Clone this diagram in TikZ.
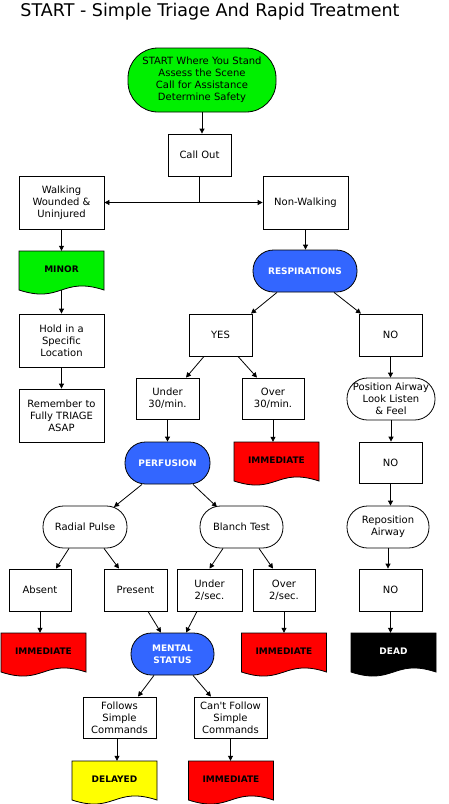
\documentclass[tikz,border=0pt]{standalone}
\usepackage{fontspec}
\newfontfamily\dv{DejaVu Sans}
\usetikzlibrary{arrows.meta,calc}
\definecolor{cgreen}{RGB}{0,240,0}
\definecolor{cblue}{RGB}{51,102,255}
\definecolor{cred}{RGB}{255,0,0}
\definecolor{cyellow}{RGB}{255,255,0}
\tikzset{
  box/.style={draw=black, line width=0.8pt, fill=white, align=center, inner sep=1pt,
              font=\dv\fontsize{10}{12}\selectfont},
  rbox/.style={box, rounded corners=20.5pt},
  term/.style={rbox, fill=cblue, text=white, font=\dv\bfseries\fontsize{9}{12}\selectfont},
  doctext/.style={align=center, inner sep=0pt, font=\dv\bfseries\fontsize{9}{12}\selectfont,
                  minimum width=85pt, minimum height=36pt},
  docpath/.style={draw=black, line width=0.8pt},
  arr/.style={line width=0.8pt, -{Triangle[length=5pt,width=5pt]}},
}
\newcommand\mydoc[6]{%
  \path[docpath, fill=#4] (#2-42.5,#3) -- (#2+42.5,#3) -- (#2+42.5,#3+39)
     .. controls (#2,#3+25) and (#2,#3+53) .. (#2-42.5,#3+39) -- cycle;
  \node[doctext, text=#5] (#1) at (#2,#3+18) {#6};
  \coordinate (#1-b) at (#2,#3+39);
}
\begin{document}
\begin{tikzpicture}[x=1pt,y=-1pt]
\useasboundingbox (0,0) rectangle (448,804);

\node[anchor=base, inner sep=0pt, font=\dv\fontsize{17.5}{20}\selectfont] (title) at (210,16.5)
  {START - Simple Triage And Rapid Treatment};

% top
\node[box, fill=cgreen, rounded corners=30pt, minimum width=148pt, minimum height=64pt] (start) at (202,80)
  {START Where You Stand\\Assess the Scene\\Call for Assistance\\Determine Safety};
\node[box, minimum width=63pt, minimum height=42pt] (callout) at (199.5,155) {Call Out};
\node[box, minimum width=85pt, minimum height=53pt] (walk) at (61.5,202.5) {Walking\\Wounded \&\\Uninjured};
\node[box, minimum width=85pt, minimum height=53pt] (nonwalk) at (305.5,202.5) {Non-Walking};

% left column
\mydoc{minor}{61.5}{251}{cgreen}{black}{MINOR}
\node[box, minimum width=85pt, minimum height=53pt] (hold) at (61.5,340.5) {Hold in a\\Specific\\Location};
\node[box, minimum width=85pt, minimum height=53pt] (remember) at (61.5,415.5) {Remember to\\Fully TRIAGE\\ASAP};

% respirations
\node[term, minimum width=104pt, minimum height=42pt] (resp) at (305,271) {RESPIRATIONS};
\node[box, minimum width=63pt, minimum height=42pt] (yes) at (220.5,335) {YES};
\node[box, minimum width=63pt, minimum height=42pt] (no1) at (390.5,335) {NO};
\node[box, minimum width=63pt, minimum height=41pt] (under30) at (167.5,398.5) {Under\\30/min.};
\node[box, minimum width=62pt, minimum height=41pt] (over30) at (273,398.5) {Over\\30/min.};
\node[rbox, minimum width=88pt, minimum height=42pt] (posair) at (391,399) {Position Airway\\Look Listen\\\& Feel};
\node[term, minimum width=85pt, minimum height=42pt] (perf) at (167.5,463) {PERFUSION};
\mydoc{imm1}{276.5}{442}{cred}{black}{IMMEDIATE}
\node[box, minimum width=63pt, minimum height=41pt] (no2) at (390.5,462.5) {NO};

% perfusion level
\node[rbox, minimum width=84pt, minimum height=42pt] (radial) at (85,527) {Radial Pulse};
\node[rbox, minimum width=83pt, minimum height=42pt] (blanch) at (241.5,527) {Blanch Test};
\node[rbox, minimum width=82pt, minimum height=42pt] (repos) at (388,527) {Reposition\\Airway};
\node[box, minimum width=62pt, minimum height=42pt] (absent) at (40,590) {Absent};
\node[box, minimum width=63pt, minimum height=42pt] (present) at (135.5,590) {Present};
\node[box, minimum width=65pt, minimum height=42pt] (under2) at (209.5,590) {Under\\2/sec.};
\node[box, minimum width=62pt, minimum height=42pt] (over2) at (284,590) {Over\\2/sec.};
\node[box, minimum width=63pt, minimum height=42pt] (no3) at (390.5,590) {NO};

\mydoc{imm2}{43.5}{633}{cred}{black}{IMMEDIATE}
\node[term, minimum width=83pt, minimum height=42pt] (mental) at (172.5,654) {MENTAL\\STATUS};
\mydoc{imm3}{284}{633}{cred}{black}{IMMEDIATE}
\mydoc{dead}{393.5}{633}{black}{white}{DEAD}

\node[box, minimum width=73pt, minimum height=41pt] (follows) at (119.5,717.5) {Follows\\Simple\\Commands};
\node[box, minimum width=73pt, minimum height=41pt] (cantf) at (230.5,717.5) {Can't Follow\\Simple\\Commands};
\mydoc{delayed}{114.5}{761}{cyellow}{black}{DELAYED}
\mydoc{imm4}{231}{761}{cred}{black}{IMMEDIATE}

% connectors
\draw[arr] (start.south) -- (start.south |- callout.north);
\draw[line width=0.8pt] (callout.south) -- (callout.south |- walk.east) coordinate (split);
\draw[arr] (split) -- (walk.east);
\draw[arr] (split) -- (nonwalk.west);
\draw[arr] (walk.south) -- (walk.south |- minor.north);
\draw[arr] (minor-b) -- (minor-b |- hold.north);
\draw[arr] (hold.south) -- (remember.north);
\draw[arr] (nonwalk.south) -- (nonwalk.south |- resp.north);

\draw[arr] ($(resp.south)+(-28,0)$) -- ($(yes.north)+(30.5,0)$);
\draw[arr] ($(resp.south)+(29,0)$) -- ($(no1.north)+(-29.5,0)$);
\draw[arr] ($(yes.south)+(-16.5,0)$) -- ($(under30.north)+(18.5,0)$);
\draw[arr] ($(yes.south)+(17.5,0)$) -- ($(over30.north)+(-16,0)$);
\draw[arr] (no1.south) -- (no1.south |- posair.north);
\draw[arr] (under30.south) -- (under30.south |- perf.north);
\draw[arr] (over30.south) -- (over30.south |- imm1.north);
\draw[arr] (posair.south) -- (posair.south |- no2.north);

\draw[arr] ($(perf.south)+(-25.5,0)$) -- ($(radial.center)+(29,-20)$);
\draw[arr] ($(perf.south)+(25.5,0)$) -- ($(blanch.center)+(-24.5,-20)$);
\draw[arr] (no2.south) -- (no2.south |- repos.north);

\draw[arr] ($(radial.south)+(-16,0)$) -- ($(absent.north)+(16,0)$);
\draw[arr] ($(radial.south)+(19,0)$) -- ($(present.north)+(-16.5,0)$);
\draw[arr] ($(blanch.south)+(-18.5,0)$) -- (under2.north);
\draw[arr] ($(blanch.south)+(17.5,0)$) -- ($(over2.north)+(-11,0)$);
\draw[arr] (repos.south) -- (repos.south |- no3.north);

\draw[arr] (absent.south) -- (absent.south |- imm2.north);
\draw[arr] ($(present.south)+(12.5,0)$) -- ($(mental.north)+(-11.5,0)$);
\draw[arr] ($(under2.south)+(-12.5,0)$) -- ($(mental.north)+(13.5,0)$);
\draw[arr] (over2.south) -- (over2.south |- imm3.north);
\draw[arr] (no3.south) -- (no3.south |- dead.north);

\draw[arr] ($(mental.south)+(-18.5,0)$) -- ($(follows.north)+(18.5,0)$);
\draw[arr] ($(mental.south)+(20.5,0)$) -- ($(cantf.north)+(-19.5,0)$);
\draw[arr] ([xshift=-2.5pt]follows.south) -- ([xshift=-2.5pt]follows.south |- delayed.north);
\draw[arr] (cantf.south) -- (cantf.south |- imm4.north);
\end{tikzpicture}
\end{document}
